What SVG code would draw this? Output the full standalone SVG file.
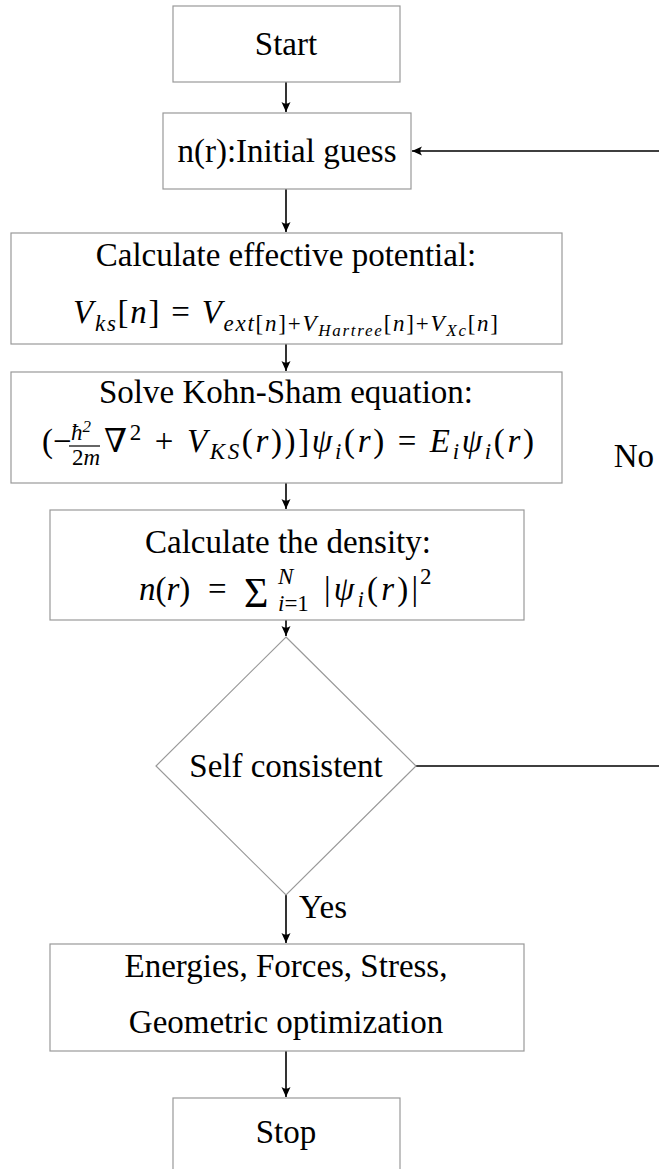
<svg xmlns="http://www.w3.org/2000/svg" width="659" height="1169" viewBox="0 0 659 1169" font-family="'Liberation Serif','DejaVu Serif','Noto Serif',serif">
<style>
.box{fill:#fff;stroke:#999;stroke-width:1.2}
.t{font-family:'Liberation Serif','DejaVu Serif','Noto Serif',serif;font-size:33px;fill:#000}
.m{font-family:'Liberation Serif','DejaVu Serif','Noto Serif',serif;font-size:33px;fill:#000}
.it{font-style:italic}
.s{font-size:23px}
.ss{font-size:17px}
.big{font-size:42px}
.c{text-anchor:middle}
.e{text-anchor:end}
.conn{fill:none;stroke:#000;stroke-width:1.6}
</style>
<defs>
<marker id="arr" viewBox="-12 -6 13 12" refX="0" refY="0" markerWidth="13" markerHeight="12" markerUnits="userSpaceOnUse" orient="auto">
<path d="M0,0 L-10,-4.5 Q-6.5,0 -10,4.5 Z" fill="#000"/>
</marker>
</defs>
<rect width="659" height="1169" fill="#fff"/>
<g id="connectors">
<line class="conn" x1="286" y1="82" x2="286" y2="112" marker-end="url(#arr)"/>
<line class="conn" x1="286" y1="189" x2="286" y2="232" marker-end="url(#arr)"/>
<line class="conn" x1="286" y1="344" x2="286" y2="371" marker-end="url(#arr)"/>
<line class="conn" x1="286" y1="483" x2="286" y2="509" marker-end="url(#arr)"/>
<line class="conn" x1="286" y1="620" x2="286" y2="636" marker-end="url(#arr)"/>
<line class="conn" x1="286" y1="895" x2="286" y2="943" marker-end="url(#arr)"/>
<line class="conn" x1="286" y1="1051" x2="286" y2="1097" marker-end="url(#arr)"/>
<polyline class="conn" points="416,766 690,766 690,151 412,151" marker-end="url(#arr)"/>
<text class="t e" x="654" y="467">No</text>
<text class="t" x="299" y="918">Yes</text>
</g>
<g id="start">
<rect class="box" x="173" y="6" width="227" height="76"/>
<text class="t c" x="286" y="55">Start</text>
</g>
<g id="initial">
<rect class="box" x="163" y="113" width="248" height="76"/>
<text class="t c" x="287" y="162">n(r):Initial guess</text>
</g>
<g id="effective">
<rect class="box" x="11" y="233" width="551" height="111"/>
<text class="t c" x="286" y="266">Calculate effective potential:</text>
<text class="m" x="73" y="323" textLength="425"><tspan class="it">V</tspan><tspan class="s it" dy="8">ks</tspan><tspan dy="-8">[</tspan><tspan class="it">n</tspan><tspan>]  =  </tspan><tspan class="it">V</tspan><tspan class="s it" dy="8">ext</tspan><tspan class="s">[</tspan><tspan class="s it">n</tspan><tspan class="s">]+</tspan><tspan class="s it">V</tspan><tspan class="ss it" dy="5">Hartree</tspan><tspan class="s" dy="-5">[</tspan><tspan class="s it">n</tspan><tspan class="s">]+</tspan><tspan class="s it">V</tspan><tspan class="ss it" dy="5">Xc</tspan><tspan class="s" dy="-5">[</tspan><tspan class="s it">n</tspan><tspan class="s">]</tspan></text>
</g>
<g id="kohnsham">
<rect class="box" x="11" y="372" width="551" height="111"/>
<text class="t c" x="286" y="403">Solve Kohn-Sham equation:</text>
<text class="m" x="42" y="452">(−</text>
<text class="m s it" x="71" y="440">ħ<tspan class="ss" dy="-8">2</tspan></text>
<line x1="69" y1="446" x2="100" y2="446" stroke="#000" stroke-width="1.2"/>
<text class="m s" x="72" y="465">2<tspan class="it">m</tspan></text>
<text class="m" x="104" y="452" textLength="430">∇<tspan class="s" dy="-12">2</tspan><tspan dy="12"> + </tspan><tspan class="it">V</tspan><tspan class="s it" dy="7">KS</tspan><tspan dy="-7">(</tspan><tspan class="it">r</tspan><tspan>))]</tspan><tspan class="it">ψ</tspan><tspan class="s it" dy="7">i</tspan><tspan dy="-7">(</tspan><tspan class="it">r</tspan><tspan>)  =  </tspan><tspan class="it">E</tspan><tspan class="s it" dy="7">i</tspan><tspan class="it" dy="-7">ψ</tspan><tspan class="s it" dy="7">i</tspan><tspan dy="-7">(</tspan><tspan class="it">r</tspan><tspan>)</tspan></text>
</g>
<g id="density">
<rect class="box" x="50" y="510" width="474" height="110"/>
<text class="t c" x="288" y="553">Calculate the density:</text>
<text class="m" x="139" y="600"><tspan class="it">n</tspan>(<tspan class="it">r</tspan>)</text>
<text class="m" x="208" y="600">=</text>
<text class="m big" x="244" y="607">Σ</text>
<text class="m s it" x="278" y="584">N</text>
<text class="m s" x="278" y="611"><tspan class="it">i</tspan>=1</text>
<text class="m" x="324" y="600" textLength="94">|<tspan class="it">ψ</tspan><tspan class="s it" dy="7">i</tspan><tspan dy="-7">(</tspan><tspan class="it">r</tspan>)|</text>
<text class="m s" x="420" y="584">2</text>
</g>
<g id="decision">
<polygon class="box" points="286,637 416,766 286,895 156,766"/>
<text class="t c" x="286" y="777">Self consistent</text>
</g>
<g id="results">
<rect class="box" x="50" y="944" width="474" height="107"/>
<text class="t c" x="286" y="977">Energies, Forces, Stress,</text>
<text class="t c" x="286" y="1033">Geometric optimization</text>
</g>
<g id="stop">
<rect class="box" x="173" y="1098" width="227" height="76"/>
<text class="t c" x="286" y="1143">Stop</text>
</g>
</svg>
